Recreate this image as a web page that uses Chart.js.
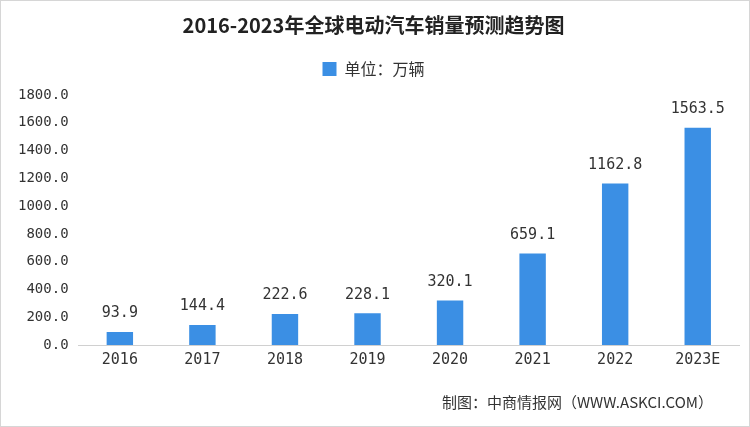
<!DOCTYPE html>
<html lang="zh">
<head>
<meta charset="UTF-8">
<title>2016-2023年全球电动汽车销量预测趋势图</title>
<script src="https://cdn.jsdelivr.net/npm/chart.js"></script>
<style>
  html, body { margin: 0; padding: 0; background: #fff; }
  #wrap { position: relative; width: 748px; height: 425px; border: 1px solid #d6d6d6; }
</style>
</head>
<body>
<div id="wrap"><canvas id="myChart" width="748" height="425"></canvas></div>
<script>
// dati
var anni = ['2016', '2017', '2018', '2019', '2020', '2021', '2022', '2023E'];
var vendite = [93.9, 144.4, 222.6, 228.1, 320.1, 659.1, 1162.8, 1563.5];
var titolo = '2016-2023年全球电动汽车销量预测趋势图';
var legenda = '单位：万辆';
var fonte = '制图：中商情报网（WWW.ASKCI.COM）';

var fontNum = "'DejaVu Sans Mono', monospace";
var fontCjk = "'Noto Sans CJK SC', sans-serif";

// spazio extra sotto la legenda
var spazioLegenda = {
    id: 'spazioLegenda',
    beforeInit: function(chart) {
        var fit = chart.legend.fit;
        chart.legend.fit = function() {
            fit.bind(chart.legend)();
            this.height += 8;
        };
    }
};

// etichette sopra le barre + fonte in basso a destra
var etichette = {
    id: 'etichette',
    afterDatasetsDraw: function(chart) {
        var ctx = chart.ctx;
        var meta = chart.getDatasetMeta(0);
        ctx.save();
        ctx.font = '15px ' + fontNum;
        ctx.fillStyle = '#333';
        ctx.textAlign = 'center';
        ctx.textBaseline = 'bottom';
        meta.data.forEach(function(bar, i) {
            ctx.fillText(vendite[i].toFixed(1), bar.x, bar.y - 11);
        });
        ctx.font = '15px ' + fontCjk;
        ctx.textAlign = 'right';
        ctx.textBaseline = 'middle';
        ctx.fillText(fonte, chart.width - 36, 401);
        ctx.restore();
    }
};

var grafico = document.getElementById('myChart').getContext('2d');
var myChart = new Chart(grafico, {
    type: 'bar',
    data: {
        labels: anni,
        datasets: [{
            label: legenda,
            data: vendite,
            backgroundColor: '#3b8fe4',
            barPercentage: 0.32,
            categoryPercentage: 1.0
        }]
    },
    options: {
        responsive: false,
        animation: false,
        layout: { padding: { left: 7, right: 10, top: 0, bottom: 51 } },
        plugins: {
            title: {
                display: true,
                text: titolo,
                color: '#222',
                font: { family: fontCjk, size: 20, weight: 'bold' },
                padding: { top: 12, bottom: 14 }
            },
            legend: {
                display: true,
                labels: {
                    boxWidth: 14,
                    boxHeight: 14,
                    padding: 10,
                    color: '#333',
                    font: { family: fontCjk, size: 16 }
                }
            },
            tooltip: { enabled: false }
        },
        scales: {
            x: {
                grid: { display: false, drawTicks: false },
                border: { display: true, color: '#d0d0d0' },
                ticks: { color: '#333', font: { family: fontNum, size: 15 }, padding: 6 }
            },
            y: {
                min: 0,
                max: 1800,
                grid: { display: false, drawTicks: false },
                border: { display: false },
                ticks: {
                    stepSize: 200,
                    color: '#333',
                    padding: 10,
                    font: { family: fontNum, size: 14 },
                    callback: function(v) { return v.toFixed(1); }
                }
            }
        }
    },
    plugins: [spazioLegenda, etichette]
});
</script>
</body>
</html>
